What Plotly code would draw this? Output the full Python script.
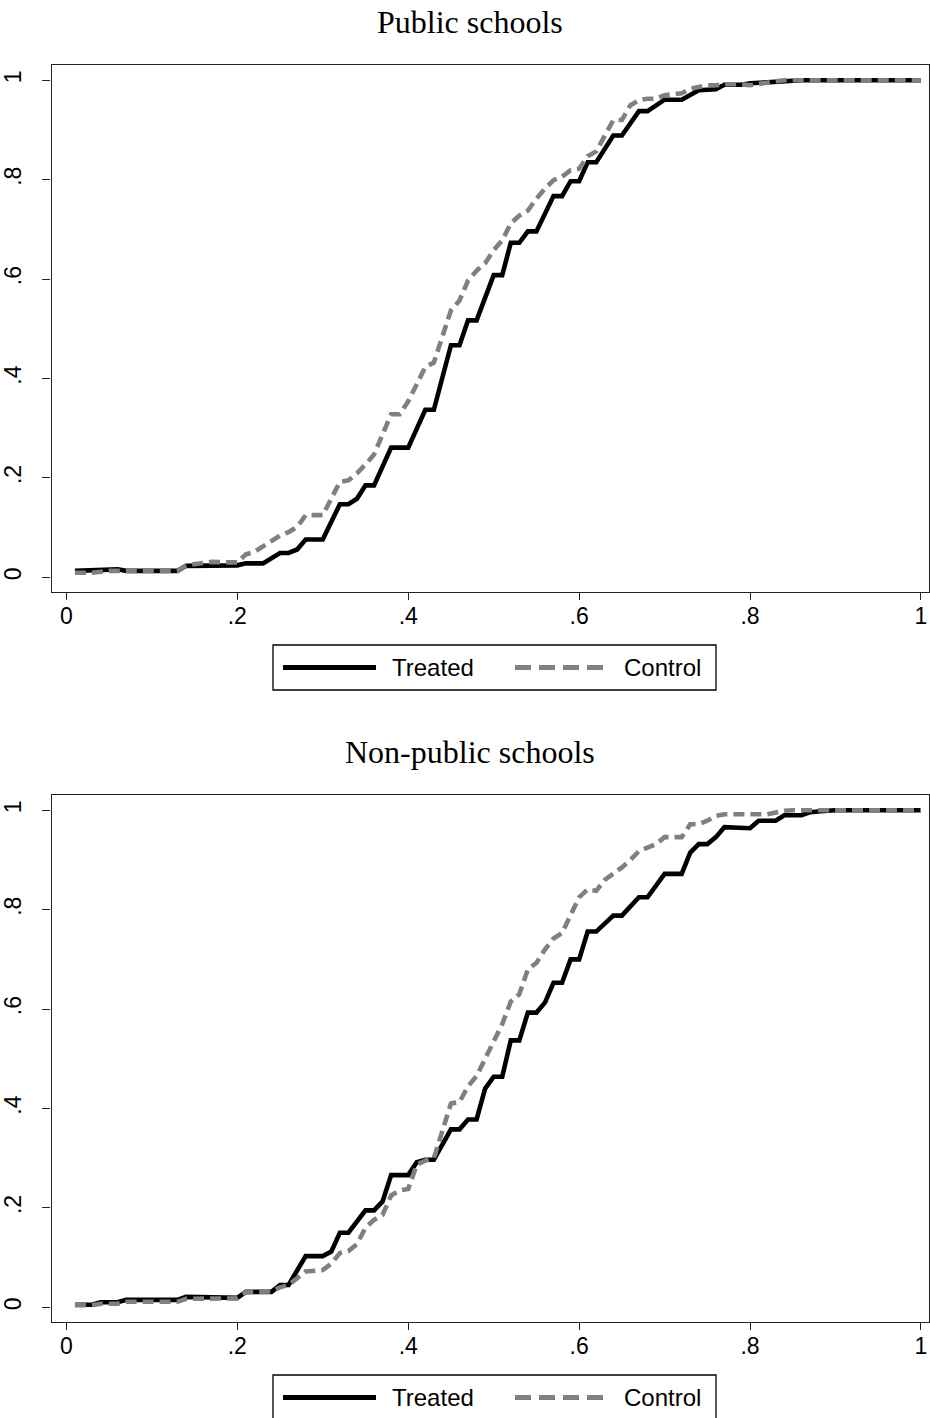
import plotly.graph_objects as go

# ---------------- data ----------------
pub_treated_x = [0.01, 0.04, 0.06, 0.07, 0.13, 0.14, 0.20, 0.21, 0.23, 0.25,
                 0.26, 0.27, 0.28, 0.30, 0.32, 0.33, 0.34, 0.35, 0.36, 0.38,
                 0.40, 0.42, 0.43, 0.45, 0.46, 0.47, 0.48, 0.50, 0.51, 0.52,
                 0.53, 0.54, 0.55, 0.57, 0.58, 0.59, 0.60, 0.61, 0.62, 0.64,
                 0.65, 0.67, 0.68, 0.70, 0.72, 0.74, 0.76, 0.77, 0.79, 0.80,
                 0.83, 0.86, 1.00]
pub_treated_y = [0.013, 0.016, 0.016, 0.013, 0.013, 0.023, 0.024, 0.028, 0.028, 0.049,
                 0.049, 0.056, 0.076, 0.076, 0.147, 0.147, 0.158, 0.185, 0.185, 0.261,
                 0.261, 0.337, 0.337, 0.467, 0.467, 0.517, 0.517, 0.608, 0.608, 0.673,
                 0.673, 0.696, 0.696, 0.767, 0.767, 0.797, 0.797, 0.835, 0.835, 0.889,
                 0.889, 0.938, 0.938, 0.961, 0.961, 0.980, 0.982, 0.991, 0.991, 0.994,
                 0.998, 1.000, 1.000]

pub_control_x = [0.01, 0.03, 0.05, 0.13, 0.14, 0.15, 0.16, 0.17, 0.19, 0.20,
                 0.21, 0.22, 0.25, 0.26, 0.27, 0.28, 0.30, 0.32, 0.33, 0.34,
                 0.35, 0.36, 0.38, 0.39, 0.40, 0.42, 0.43, 0.45, 0.46, 0.47,
                 0.48, 0.49, 0.50, 0.51, 0.52, 0.53, 0.54, 0.55, 0.56, 0.57,
                 0.58, 0.59, 0.60, 0.61, 0.62, 0.64, 0.65, 0.66, 0.67, 0.68,
                 0.69, 0.70, 0.71, 0.72, 0.73, 0.74, 0.75, 0.76, 0.77, 0.79,
                 0.80, 0.83, 0.84, 1.00]
pub_control_y = [0.009, 0.009, 0.013, 0.013, 0.024, 0.026, 0.028, 0.031, 0.030, 0.030,
                 0.046, 0.051, 0.084, 0.091, 0.101, 0.125, 0.125, 0.192, 0.195, 0.209,
                 0.227, 0.247, 0.328, 0.328, 0.354, 0.423, 0.432, 0.537, 0.557, 0.597,
                 0.617, 0.632, 0.658, 0.678, 0.712, 0.728, 0.738, 0.762, 0.782, 0.799,
                 0.806, 0.819, 0.822, 0.847, 0.857, 0.920, 0.920, 0.950, 0.960, 0.963,
                 0.963, 0.970, 0.972, 0.974, 0.983, 0.986, 0.990, 0.990, 0.992, 0.992,
                 0.990, 0.998, 1.000, 1.000]

np_treated_x = [0.01, 0.03, 0.04, 0.06, 0.07, 0.13, 0.14, 0.17, 0.18, 0.20,
                0.21, 0.24, 0.25, 0.26, 0.28, 0.30, 0.31, 0.32, 0.33, 0.35,
                0.36, 0.37, 0.38, 0.40, 0.41, 0.42, 0.43, 0.45, 0.46, 0.47,
                0.48, 0.49, 0.50, 0.51, 0.52, 0.53, 0.54, 0.55, 0.56, 0.57,
                0.58, 0.59, 0.60, 0.61, 0.62, 0.63, 0.64, 0.65, 0.67, 0.68,
                0.70, 0.72, 0.73, 0.74, 0.75, 0.76, 0.77, 0.80, 0.81, 0.83,
                0.84, 0.86, 0.87, 0.89, 0.90, 1.00]
np_treated_y = [0.005, 0.005, 0.010, 0.010, 0.015, 0.015, 0.021, 0.021, 0.019, 0.019,
                0.031, 0.031, 0.045, 0.045, 0.103, 0.103, 0.112, 0.150, 0.150, 0.195,
                0.195, 0.213, 0.266, 0.266, 0.292, 0.297, 0.297, 0.358, 0.358, 0.378,
                0.378, 0.440, 0.464, 0.464, 0.537, 0.537, 0.593, 0.593, 0.613, 0.653,
                0.653, 0.700, 0.700, 0.756, 0.756, 0.771, 0.788, 0.788, 0.825, 0.825,
                0.872, 0.872, 0.915, 0.932, 0.932, 0.946, 0.966, 0.964, 0.979, 0.979,
                0.990, 0.990, 0.996, 0.999, 1.000, 1.000]

np_control_x = [0.01, 0.03, 0.04, 0.06, 0.07, 0.13, 0.14, 0.17, 0.18, 0.20,
                0.21, 0.24, 0.25, 0.26, 0.28, 0.29, 0.30, 0.31, 0.32, 0.33,
                0.34, 0.35, 0.36, 0.37, 0.38, 0.39, 0.40, 0.41, 0.42, 0.43,
                0.45, 0.46, 0.47, 0.48, 0.49, 0.50, 0.51, 0.52, 0.53, 0.54,
                0.55, 0.56, 0.57, 0.58, 0.59, 0.60, 0.61, 0.62, 0.63, 0.64,
                0.65, 0.66, 0.67, 0.68, 0.69, 0.70, 0.72, 0.73, 0.74, 0.75,
                0.76, 0.77, 0.82, 0.84, 0.85, 1.00]
np_control_y = [0.004, 0.004, 0.007, 0.007, 0.011, 0.011, 0.017, 0.017, 0.018, 0.018,
                0.030, 0.032, 0.040, 0.045, 0.072, 0.073, 0.075, 0.088, 0.109, 0.113,
                0.127, 0.160, 0.176, 0.186, 0.225, 0.235, 0.238, 0.287, 0.295, 0.300,
                0.410, 0.413, 0.445, 0.465, 0.500, 0.535, 0.570, 0.615, 0.630, 0.680,
                0.693, 0.720, 0.742, 0.753, 0.790, 0.825, 0.841, 0.838, 0.860, 0.872,
                0.885, 0.900, 0.918, 0.925, 0.932, 0.946, 0.946, 0.972, 0.972, 0.979,
                0.989, 0.992, 0.992, 0.999, 1.000, 1.000]

panel_titles = ["Public schools", "Non-public schools"]
series_names = ["Treated", "Control"]
tick_vals = [0, 0.2, 0.4, 0.6, 0.8, 1]
tick_text = ["0", ".2", ".4", ".6", ".8", "1"]

# ---------------- styling / layout ----------------
W, H = 930, 1418
BLACK = "#000000"
GRAY = "#808080"
LW = 4.6
DASH = "11px,6px"
TICKFONT = dict(family="Liberation Sans, Arial, sans-serif", size=23, color="black")
LEGFONT = dict(family="Liberation Sans, Arial, sans-serif", size=24, color="black")
TITLEFONT = dict(family="Liberation Serif, Times New Roman, serif", size=32, color="black")


def fx(px):
    return px / W


def fy(py):
    return 1 - py / H


fig = go.Figure()

panels = [
    (pub_treated_x, pub_treated_y, pub_control_x, pub_control_y, "x", "y"),
    (np_treated_x, np_treated_y, np_control_x, np_control_y, "x2", "y2"),
]
for tx, ty, cx, cy, xa, ya in panels:
    fig.add_trace(go.Scatter(x=tx, y=ty, mode="lines", name=series_names[0],
                             line=dict(color=BLACK, width=LW), xaxis=xa, yaxis=ya,
                             showlegend=False))
    fig.add_trace(go.Scatter(x=cx, y=cy, mode="lines", name=series_names[1],
                             line=dict(color=GRAY, width=LW, dash=DASH), xaxis=xa, yaxis=ya,
                             showlegend=False))

x_dom = [fx(51.6), fx(929)]
offsets = [0, 730]
x_range = [-0.0173, 1.0094]
y_range = [-0.0296, 1.0308]

axis_common = dict(showgrid=False, zeroline=False, showline=True, linecolor="#222222",
                   linewidth=1.3, mirror=True, ticks="outside", tickwidth=1.3,
                   tickcolor="#222222", tickvals=tick_vals, ticktext=tick_text,
                   tickfont=TICKFONT, fixedrange=True)

layout_axes = {}
for i, off in enumerate(offsets):
    sx = "" if i == 0 else str(i + 1)
    layout_axes["xaxis" + sx] = dict(axis_common, domain=x_dom, range=x_range,
                                     anchor="y" + sx, ticklen=7, ticklabelstandoff=-4)
    layout_axes["yaxis" + sx] = dict(axis_common, domain=[fy(592 + off), fy(65 + off)],
                                     range=y_range, anchor="x" + sx, tickangle=-90,
                                     ticklen=8, ticklabelstandoff=12)

annotations = []
shapes = []
for i, off in enumerate(offsets):
    annotations.append(dict(text=panel_titles[i], x=fx(470.5), y=fy(22 + off),
                            xref="paper", yref="paper", xanchor="center", yanchor="middle",
                            showarrow=False, font=TITLEFONT))
    # legend box
    shapes.append(dict(type="rect", xref="paper", yref="paper",
                       x0=fx(273), x1=fx(716), y0=fy(690 + off), y1=fy(645 + off),
                       line=dict(color=BLACK, width=1.3), fillcolor="white"))
    ly = fy(667.5 + off)
    shapes.append(dict(type="line", xref="paper", yref="paper", x0=fx(283), x1=fx(376),
                       y0=ly, y1=ly, line=dict(color=BLACK, width=LW + 0.4)))
    shapes.append(dict(type="line", xref="paper", yref="paper", x0=fx(515), x1=fx(608),
                       y0=ly, y1=ly, line=dict(color=GRAY, width=LW + 0.4, dash="16px,8px")))
    annotations.append(dict(text=series_names[0], x=fx(390), y=ly, xref="paper", yref="paper",
                            xanchor="left", yanchor="middle", showarrow=False, font=LEGFONT))
    annotations.append(dict(text=series_names[1], x=fx(622), y=ly, xref="paper", yref="paper",
                            xanchor="left", yanchor="middle", showarrow=False, font=LEGFONT))

fig.update_layout(width=W, height=H, margin=dict(l=0, r=0, t=0, b=0),
                  paper_bgcolor="white", plot_bgcolor="white", showlegend=False,
                  annotations=annotations, shapes=shapes, **layout_axes)

fig.write_html("out.html", config={"displayModeBar": False},
               post_script="document.body.style.margin='0';"
                           "document.body.style.overflow='hidden';")
